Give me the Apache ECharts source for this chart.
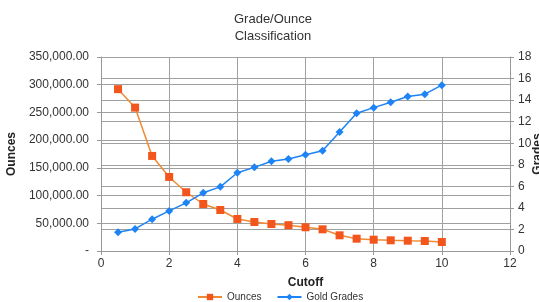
<!DOCTYPE html>
<html><head><meta charset="utf-8">
<script src="https://cdn.jsdelivr.net/npm/echarts@6/dist/echarts.min.js"></script>
<style>html,body{margin:0;padding:0;background:#fff}#c{width:539px;height:302px}</style>
</head><body><div id="c"></div>
<script>
const cutoffs = [0.5,1,1.5,2,2.5,3,3.5,4,4.5,5,5.5,6,6.5,7,7.5,8,8.5,9,9.5,10];
const ounces = [292000,258700,171500,133600,106000,84800,74000,57800,52300,48700,46600,42800,39100,28300,22200,20400,19300,18600,18000,16200];
const grades = [1.74,2.05,2.95,3.72,4.47,5.4,5.95,7.26,7.76,8.32,8.53,8.93,9.3,11.04,12.78,13.3,13.8,14.33,14.55,15.39];
const titleText = 'Grade/Ounce\nClassification';
const FONT = 'Liberation Sans';
const chart = echarts.init(document.getElementById('c'));
const fmt = v => v === 0 ? '-' : v.toLocaleString('en-US',{minimumFractionDigits:2,maximumFractionDigits:2});
chart.setOption({
  animation:false,
  textStyle:{fontFamily:FONT},
  title:{text:titleText,left:268,textAlign:'center',top:6,textStyle:{fontFamily:FONT,fontSize:13,fontWeight:'normal',color:'#333',lineHeight:17}},
  grid:{left:101,right:29,top:57,bottom:51,outerBoundsMode:'none',containLabel:false},
  legend:{top:287,left:192,itemGap:15,itemWidth:24,itemHeight:8,textStyle:{fontFamily:FONT,fontSize:10,color:'#333'},
    data:['Ounces','Gold Grades']},
  xAxis:{type:'value',min:0,max:12,interval:2,name:'Cutoff',nameLocation:'middle',nameGap:26,
    nameTextStyle:{fontFamily:FONT,fontSize:12,fontWeight:'bold',color:'#222'},
    axisLine:{show:true,lineStyle:{color:'#999'}},axisTick:{show:true,length:4,lineStyle:{color:'#999'}},
    axisLabel:{fontFamily:FONT,fontSize:12,color:'#333',margin:7},
    splitLine:{show:true,lineStyle:{color:'#a0a0a0'}}},
  yAxis:[
    {type:'value',min:0,max:350000,interval:50000,name:'Ounces',nameLocation:'middle',nameGap:76,nameRotate:90,
     nameTextStyle:{fontFamily:FONT,fontSize:12,fontWeight:'bold',color:'#222'},
     axisLine:{show:true,lineStyle:{color:'#999'}},axisTick:{show:true,length:4,lineStyle:{color:'#999'}},
     axisLabel:{fontFamily:FONT,fontSize:12,color:'#333',margin:12,formatter:fmt},
     splitLine:{show:true,lineStyle:{color:'#a0a0a0'}}},
    {type:'value',min:0,max:18,interval:2,name:'Grades',nameLocation:'middle',nameGap:22,nameRotate:90,position:'right',nameMoveOverlap:false,
     nameTextStyle:{fontFamily:FONT,fontSize:12,fontWeight:'bold',color:'#222',verticalAlign:'top'},
     axisLine:{show:true,lineStyle:{color:'#999'}},axisTick:{show:true,length:4,lineStyle:{color:'#999'}},
     axisLabel:{fontFamily:FONT,fontSize:12,color:'#333',margin:8},
     splitLine:{show:true,lineStyle:{color:'#a0a0a0'}}}
  ],
  series:[
    {name:'Ounces',type:'line',yAxisIndex:0,data:cutoffs.map((x,i)=>[x,ounces[i]]),
     symbol:'rect',symbolSize:8,itemStyle:{color:'#F2561D'},lineStyle:{color:'#F08A32',width:1.5}},
    {name:'Gold Grades',type:'line',yAxisIndex:1,data:cutoffs.map((x,i)=>[x,grades[i]]),
     symbol:'diamond',symbolSize:8,itemStyle:{color:'#1E83F5'},lineStyle:{color:'#1E83F5',width:1.5}}
  ]
});
</script></body></html>
